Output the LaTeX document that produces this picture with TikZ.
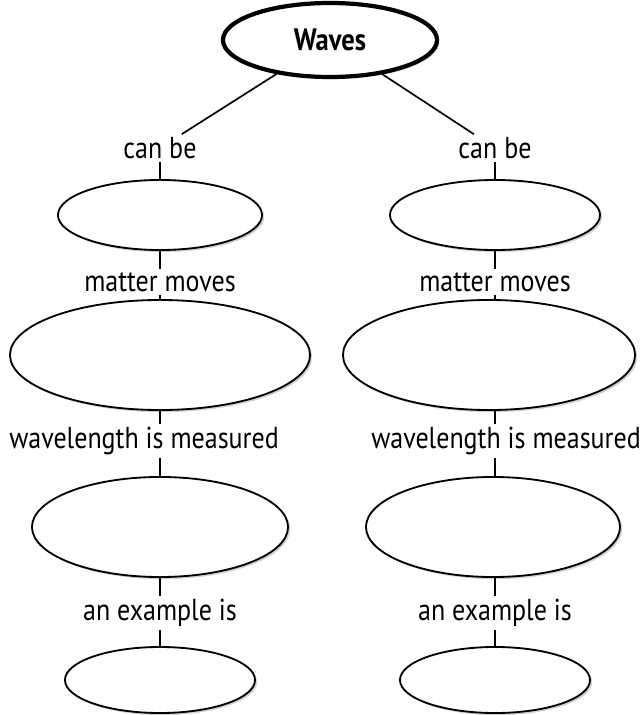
\documentclass[tikz,border=0pt]{standalone}
\usepackage{fontspec}
\setmainfont{PT Sans}[FakeStretch=0.86]
\usetikzlibrary{shapes.geometric, positioning, shadows}

\begin{document}
\begin{tikzpicture}[
    x=0.025cm, y=-0.025cm,
    bubble/.style={ellipse, draw, line width=1.3pt, fill=white, inner sep=0pt,
        drop shadow={shadow xshift=1.5pt, shadow yshift=-1.5pt, fill=black!30, opacity=0.6}},
    topic/.style={bubble, line width=3pt, font=\fontsize{22}{26}\selectfont\bfseries},
    lbl/.style={fill=white, inner sep=2pt, font=\fontsize{21.5}{25}\selectfont},
    link/.style={line width=1.2pt},
]
\useasboundingbox (0,0) rectangle (643,715);

% Main concept
\node[topic, minimum width=5.35cm, minimum height=1.85cm] (waves) at (330,40) {Waves};

% Left branch
\node[bubble, minimum width=5.1cm, minimum height=1.75cm] (l1) at (160,215) {};
\node[bubble, minimum width=7.5cm, minimum height=2.75cm] (l2) at (160,355) {};
\node[bubble, minimum width=6.4cm, minimum height=2.5cm] (l3) at (160,527) {};
\node[bubble, minimum width=4.75cm, minimum height=1.65cm] (l4) at (160,680) {};

% Right branch
\node[bubble, minimum width=5.25cm, minimum height=1.75cm] (r1) at (495,215) {};
\node[bubble, minimum width=7.3cm, minimum height=2.75cm] (r2) at (489,355) {};
\node[bubble, minimum width=6.35cm, minimum height=2.5cm] (r3) at (493,527) {};
\node[bubble, minimum width=4.75cm, minimum height=1.65cm] (r4) at (495,680) {};

% Linking words
\node[lbl] (canL) at (160,148) {can be};
\node[lbl] (canR) at (495,148) {can be};
\node[lbl] (movL) at (160,282) {matter moves};
\node[lbl] (movR) at (495,282) {matter moves};
\node[lbl] (wavL) at (144,441) {wavelength is measured};
\node[lbl] (wavR) at (506,441) {wavelength is measured};
\node[lbl] (exL) at (160,613) {an example is};
\node[lbl] (exR) at (495,613) {an example is};

% Connectors
\draw[link] (waves) -- (canL);
\draw[link] (waves) -- (canR);
\draw[link] (canL) -- (l1);
\draw[link] (canR) -- (r1);
\draw[link] (l1) -- (movL);
\draw[link] (r1) -- (movR);
\draw[link] (movL) -- (l2);
\draw[link] (movR) -- (r2.north -| movR);
\draw[link] (l2.south) -- (wavL.north -| l2.south);
\draw[link] (wavL.south -| l3.north) -- (l3.north);
\draw[link] (r2.south -| movR) -- (wavR.north -| movR);
\draw[link] (wavR.south -| movR) -- (r3.north -| movR);
\draw[link] (l3) -- (exL);
\draw[link] (exL) -- (l4);
\draw[link] (r3.south -| exR) -- (exR);
\draw[link] (exR) -- (r4);
\end{tikzpicture}
\end{document}
